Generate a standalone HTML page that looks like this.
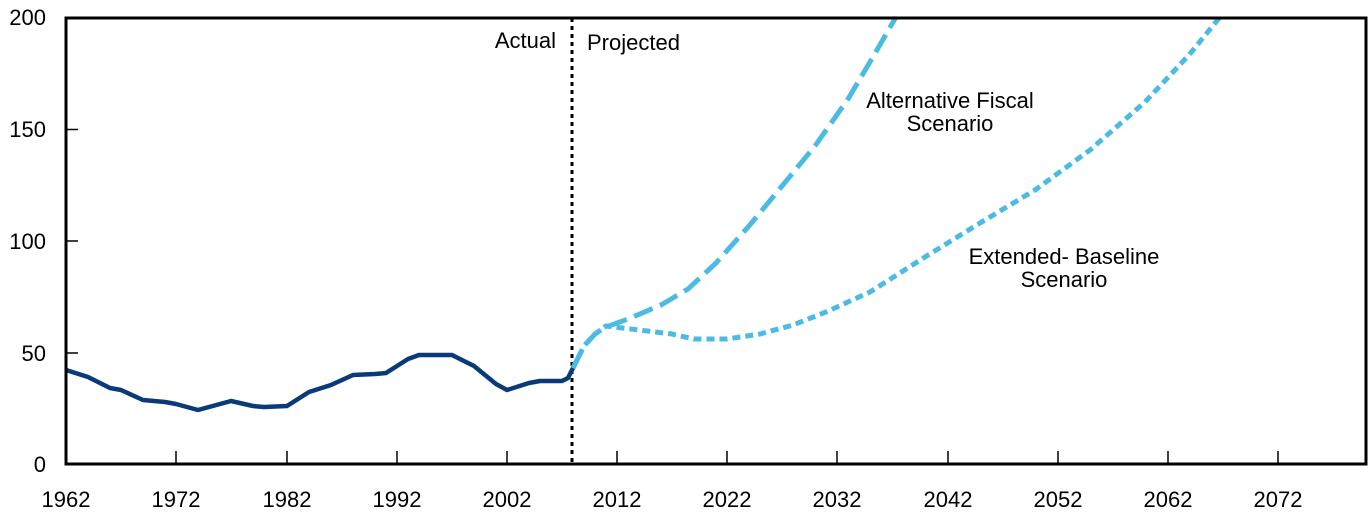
<!DOCTYPE html>
<html><head><meta charset="utf-8"><style>body{margin:0;background:#fff}svg{display:block}text{font-family:"Liberation Sans",sans-serif;font-size:22px;fill:#000}</style></head>
<body>
<svg width="1372" height="522" viewBox="0 0 1372 522">
<g text-anchor="end">
<text x="46" y="25">200</text><text x="46" y="137">150</text><text x="46" y="249">100</text><text x="46" y="361">50</text><text x="46" y="472">0</text>
</g>
<g stroke="#000" stroke-width="1.5">
<line x1="66" y1="129.5" x2="78" y2="129.5"/><line x1="66" y1="241" x2="78" y2="241"/><line x1="66" y1="353" x2="78" y2="353"/>
<line x1="176" y1="464" x2="176" y2="451"/><line x1="287" y1="464" x2="287" y2="451"/><line x1="397" y1="464" x2="397" y2="451"/><line x1="507" y1="464" x2="507" y2="451"/><line x1="617" y1="464" x2="617" y2="451"/><line x1="727" y1="464" x2="727" y2="451"/><line x1="837" y1="464" x2="837" y2="451"/><line x1="948" y1="464" x2="948" y2="451"/><line x1="1058" y1="464" x2="1058" y2="451"/><line x1="1168" y1="464" x2="1168" y2="451"/><line x1="1278" y1="464" x2="1278" y2="451"/>
</g>
<g text-anchor="middle">
<text x="66" y="507">1962</text><text x="176" y="507">1972</text><text x="287" y="507">1982</text><text x="397" y="507">1992</text><text x="507" y="507">2002</text><text x="617" y="507">2012</text><text x="727" y="507">2022</text><text x="837" y="507">2032</text><text x="948" y="507">2042</text><text x="1058" y="507">2052</text><text x="1168" y="507">2062</text><text x="1278" y="507">2072</text>
</g>
<line x1="572" y1="18" x2="572" y2="464" stroke="#000" stroke-width="3" stroke-dasharray="4,4"/>
<text x="556" y="48" text-anchor="end">Actual</text><text x="587" y="50">Projected</text>
<text x="950" y="108" text-anchor="middle">Alternative Fiscal</text><text x="950" y="131" text-anchor="middle">Scenario</text>
<text x="1064" y="264" text-anchor="middle">Extended- Baseline</text><text x="1064" y="287" text-anchor="middle">Scenario</text>
<polyline fill="none" stroke="#0a3b78" stroke-width="4.5" stroke-linejoin="round" points="66,370 88,377 110,388 121,390 143,400 165,402 176,404 198,410 231,401 253,406 264,407 287,406 309,392 331,385 353,375 375,374 386,373 408,359 419,355 452,355 474,366 496,384 507,390 529,383 540,381 562,381 568,378 573,368"/>
<polyline fill="none" stroke="#4cbbe3" stroke-width="5" stroke-dasharray="20,8" points="573,368 584,346 595,334 606,327 628,319 661,305 688,289 716,263 749,226 782,186 815,146 848,99 870,62 896,17"/>
<polyline fill="none" stroke="#4cbbe3" stroke-width="5" stroke-dasharray="8,5" points="573,368 584,346 595,334 606,326 639,330 672,334 694,339 727,339 760,334 793,325 826,312 870,292 925,257 980,223 1035,190 1090,150 1145,102 1189,55 1220,17"/>
<rect x="66" y="18" width="1300" height="446" fill="none" stroke="#000" stroke-width="3"/>
</svg>
</body></html>
